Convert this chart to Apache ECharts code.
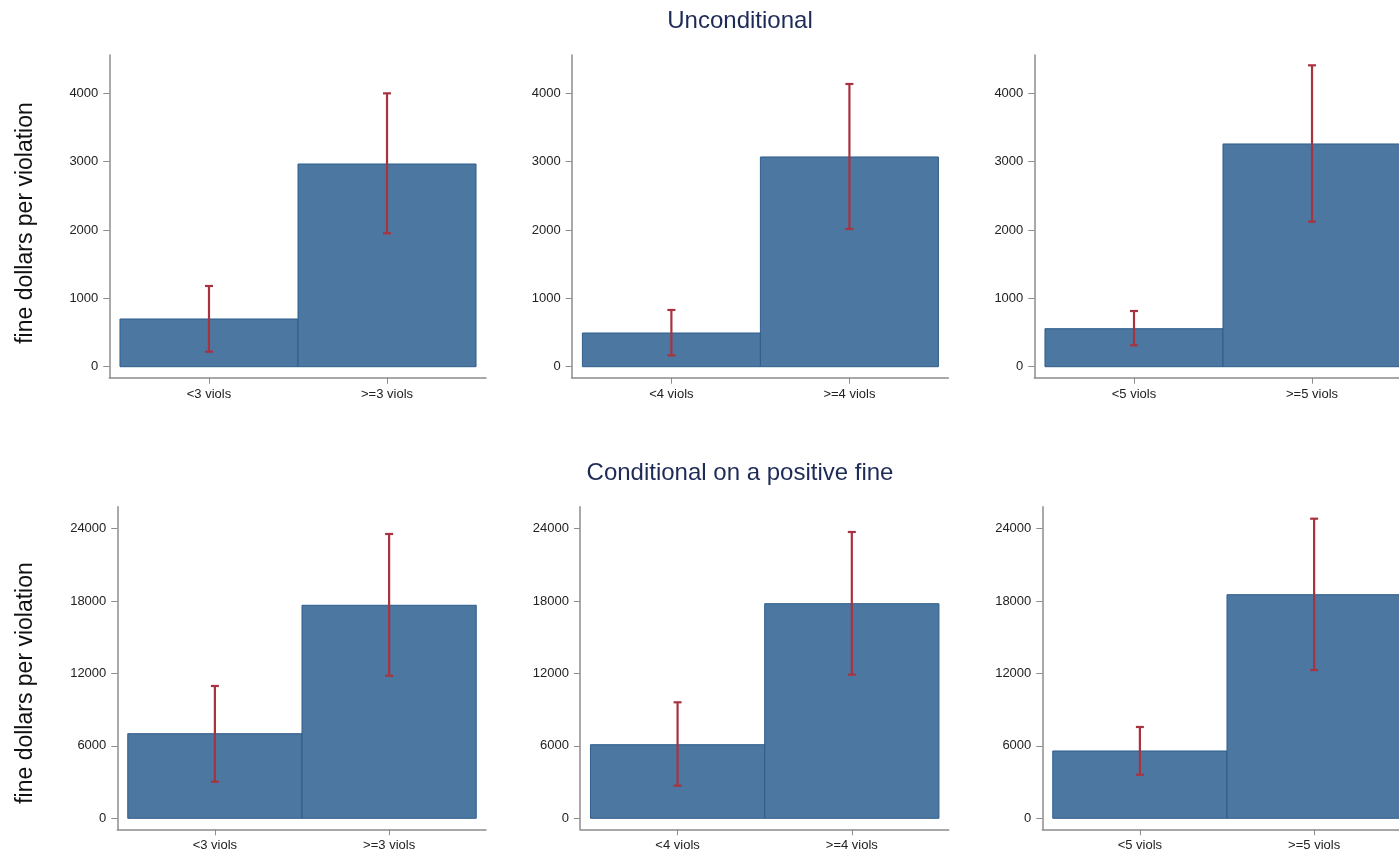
<!DOCTYPE html>
<html>
<head>
<meta charset="utf-8">
<script src="https://cdn.jsdelivr.net/npm/echarts@6/dist/echarts.min.js"></script>
<style>
html,body{margin:0;padding:0;background:#fff;}
#chart{width:1399px;height:856px;}
</style>
</head>
<body>
<div id="chart"></div>
<script>
// ---- data ----
const panelLabels = [['<3 viols','>=3 viols'],['<4 viols','>=4 viols'],['<5 viols','>=5 viols']];
const uncondMeans = [[698,2966],[493,3069],[556,3259]];
const uncondLo    = [[220,1952],[166,2015],[313,2122]];
const uncondHi    = [[1181,4000],[830,4137],[815,4410]];
const condMeans   = [[7011,17652],[6100,17785],[5577,18530]];
const condLo      = [[3033,11818],[2702,11900],[3613,12290]];
const condHi      = [[10964,23561],[9613,23727],[7567,24829]];
const yTicksTop    = [0,1000,2000,3000,4000];
const yTicksBottom = [0,6000,12000,18000,24000];
const rowTitles = ['Unconditional','Conditional on a positive fine'];
const yTitle = 'fine dollars per violation';

// ---- layout ----
const FONT = 'Liberation Sans, Arial, sans-serif';
const barColor = '#4b77a0';
const barBorder = '#2f5e8c';
const errColor = '#a83340';
const axisColor = '#8c8c8c';
const XMIN = 0.44, XMAX = 2.556;
const rows = [
  {means:uncondMeans, lo:uncondLo, hi:uncondHi, ticks:yTicksTop, ymin:-161, ymax:4561, top:55, height:322.7, lefts:[109.3,571.7,1034.3], width:376.7},
  {means:condMeans, lo:condLo, hi:condHi, ticks:yTicksBottom, ymin:-912, ymax:25823, top:506.7, height:322.6, lefts:[117.3,580,1042.3], width:368.7}
];
const CANVAS_W = 1399;

const grids = [], xAxes = [], yAxes = [], series = [];
let idx = 0;
rows.forEach((row) => {
  for (let p = 0; p < 3; p++) {
    const left = row.lefts[p];
    let width = row.width, xmax = XMAX;
    if (left + width > CANVAS_W) {
      // panel is cut off by the picture edge: keep the same scale, shorten range
      const unit = row.width / (XMAX - XMIN);
      width = CANVAS_W - left;
      xmax = XMIN + width / unit;
    }
    grids.push({left: left, top: row.top, width: width, height: row.height, containLabel: false});
    const labels = panelLabels[p];
    xAxes.push({
      type:'value', gridIndex: idx, min: XMIN, max: xmax,
      splitLine:{show:false},
      axisLine:{show:true, onZero:false, lineStyle:{color:axisColor, width:1.5}},
      axisTick:{show:true, customValues:[1,2], length:6, lineStyle:{color:axisColor, width:1}},
      axisLabel:{show:true, customValues:[1,2], margin:10, fontSize:13, color:'#222', fontFamily:FONT,
        formatter:(v)=> labels[Math.round(v)-1] || ''}
    });
    yAxes.push({
      type:'value', gridIndex: idx, min: row.ymin, max: row.ymax,
      splitLine:{show:false},
      axisLine:{show:true, onZero:false, lineStyle:{color:axisColor, width:1.5}},
      axisTick:{show:true, customValues: row.ticks, length:6, lineStyle:{color:axisColor, width:1}},
      axisLabel:{show:true, customValues: row.ticks, margin:11, fontSize:13, color:'#222', fontFamily:FONT,
        formatter:(v)=> String(Math.round(v))}
    });
    const barData = row.means[p].map((v,i)=>[i+1, v]);
    series.push({
      type:'custom', xAxisIndex: idx, yAxisIndex: idx, data: barData, clip:false,
      renderItem:(params, api)=>{
        const x = api.value(0), y = api.value(1);
        const p0 = api.coord([x-0.5, y]);
        const p1 = api.coord([x+0.5, 0]);
        return {type:'rect', shape:{x:p0[0], y:p0[1], width:p1[0]-p0[0], height:p1[1]-p0[1]},
          style:{fill:barColor, stroke:barBorder, lineWidth:1}};
      }
    });
    const errData = row.lo[p].map((lo,i)=>[i+1, lo, row.hi[p][i]]);
    series.push({
      type:'custom', xAxisIndex: idx, yAxisIndex: idx, data: errData, clip:false, z:5,
      renderItem:(params, api)=>{
        const x = api.value(0);
        const a = api.coord([x, api.value(1)]);
        const b = api.coord([x, api.value(2)]);
        const hw = 4;
        const st = {stroke:errColor, lineWidth:2.2};
        return {type:'group', children:[
          {type:'line', shape:{x1:a[0], y1:a[1], x2:b[0], y2:b[1]}, style:st},
          {type:'line', shape:{x1:a[0]-hw, y1:a[1], x2:a[0]+hw, y2:a[1]}, style:st},
          {type:'line', shape:{x1:b[0]-hw, y1:b[1], x2:b[0]+hw, y2:b[1]}, style:st}
        ]};
      }
    });
    idx++;
  }
});

const titles = [
  {text: rowTitles[0], left: 735, top: 4, textAlign:'center', textStyle:{fontSize:24, fontWeight:'normal', color:'#1e2b57', fontFamily:FONT}},
  {text: rowTitles[1], left: 735, top: 456, textAlign:'center', textStyle:{fontSize:24, fontWeight:'normal', color:'#1e2b57', fontFamily:FONT}}
];

const chart = echarts.init(document.getElementById('chart'), null, {renderer:'canvas'});
chart.setOption({
  backgroundColor:'#fff',
  animation:false,
  title: titles,
  grid: grids,
  xAxis: xAxes,
  yAxis: yAxes,
  series: series,
  graphic: [
    {type:'text', x:26, y:223, rotation:Math.PI/2, style:{text:yTitle, fontSize:23, fill:'#111', fontFamily:FONT, align:'center', verticalAlign:'middle'}},
    {type:'text', x:26, y:683, rotation:Math.PI/2, style:{text:yTitle, fontSize:23, fill:'#111', fontFamily:FONT, align:'center', verticalAlign:'middle'}}
  ]
});
</script>
</body>
</html>
